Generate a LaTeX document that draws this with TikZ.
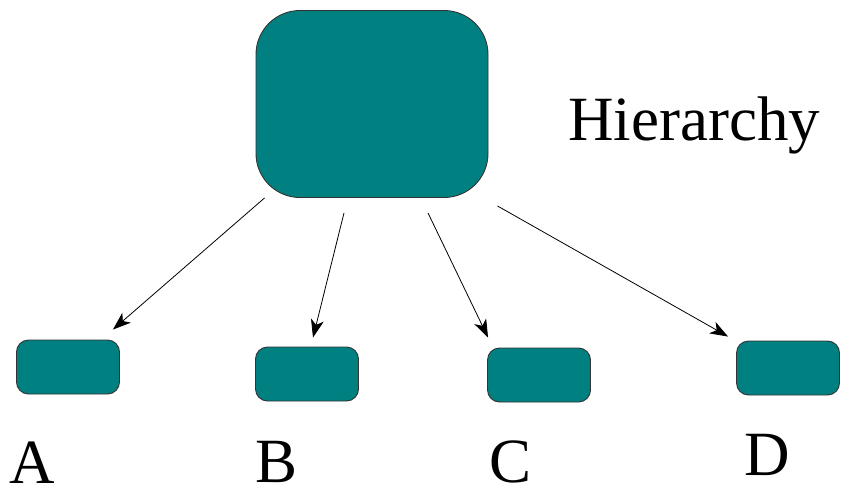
\documentclass[tikz,border=0pt]{standalone}
\usepackage{fontspec}
\setmainfont{Liberation Serif}
\usetikzlibrary{arrows.meta}

\definecolor{boxteal}{HTML}{008080}

\tikzset{
  bigbox/.style={draw=black!80, fill=boxteal, line width=0.9pt, rounded corners=44pt,
    minimum width=232pt, minimum height=187pt, inner sep=0pt},
  smallbox/.style={draw=black!80, fill=boxteal, line width=0.9pt, rounded corners=12pt,
    minimum width=103pt, minimum height=54pt, inner sep=0pt},
  arr/.style={-{Stealth[length=18pt,width=13pt,inset=5pt]}, line width=0.8pt},
  lbl/.style={anchor=base, inner sep=0pt, font=\fontsize{63}{63}\selectfont}
}

\begin{document}
\begin{tikzpicture}[x=1pt, y=-1pt]
            \useasboundingbox (0,0) rectangle (842,495);

            % boxes
            \node[bigbox] at (372,104) (top) {};
            \node[smallbox] at (68,367) (a) {};
            \node[smallbox] at (307,374) (b) {};
            \node[smallbox] at (539,375) (c) {};
            \node[smallbox] at (788,368) (d) {};

            % labels
            \node[lbl] at (32,483) (la) {A};
            \node[lbl] at (277,482) (lb) {B};
            \node[lbl] at (511,482) (lc) {C};
            \node[lbl] at (767,475) (ld) {D};
            \node[lbl, anchor=base west] at (568,140) (title) {Hierarchy};

            % arrows
            \draw[arr] ([xshift=9]top.south west) -- ([shift={(-7,-10)}]a.north east);
            \draw[arr] ([shift={(-28,15)}]top.south) -- ([shift={(6,-9)}]b.north);
            \draw[arr] ([shift={(56,15)}]top.south) -- ([shift={(1,-10)}]c.north west);
            \draw[arr] ([shift={(9,8)}]top.south east) -- ([shift={(-8,-4)}]d.north west);
        \end{tikzpicture}
\end{document}
